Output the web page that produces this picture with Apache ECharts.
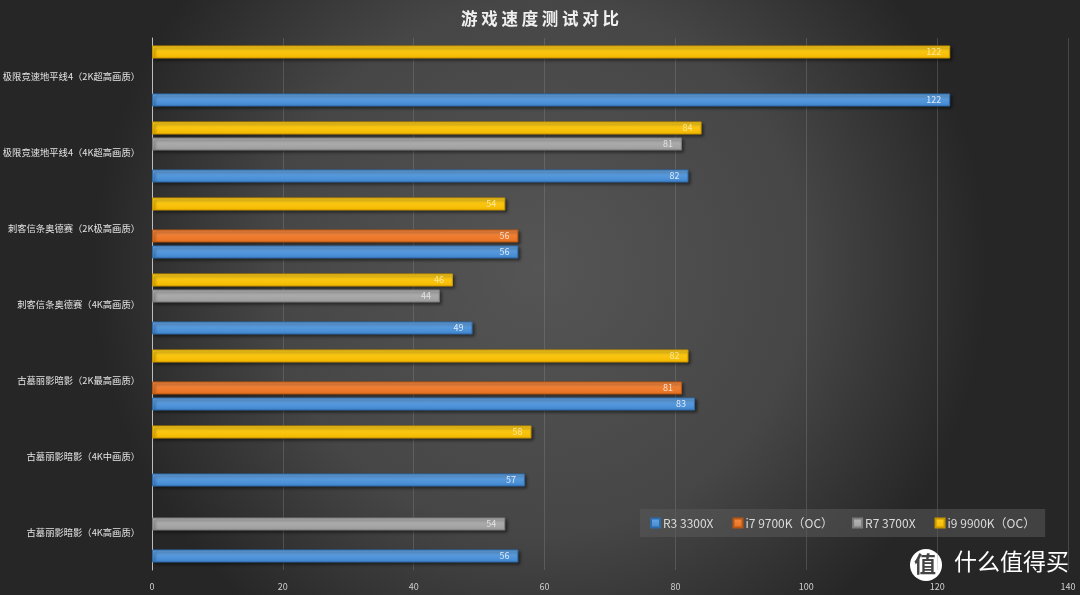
<!DOCTYPE html>
<html>
<head>
<meta charset="utf-8">
<script src="https://cdn.jsdelivr.net/npm/echarts@6/dist/echarts.min.js"></script>
<style>
  html, body { margin: 0; padding: 0; background: #333; }
  #main { width: 1080px; height: 595px; }
</style>
</head>
<body>
<div id="main"></div>
<script>
  // 游戏名称，从上到下
  var games = [
    '极限竞速地平线4（2K超高画质）',
    '极限竞速地平线4（4K超高画质）',
    '刺客信条奥德赛（2K极高画质）',
    '刺客信条奥德赛（4K高画质）',
    '古墓丽影暗影（2K最高画质）',
    '古墓丽影暗影（4K中画质）',
    '古墓丽影暗影（4K高画质）'
  ];
  var cpuNames = ['R3 3300X', 'i7 9700K（OC）', 'R7 3700X', 'i9 9900K（OC）'];
  // '-' 表示没有测这一项
  var r3 = [122, 82, 56, 49, 83, 57, 56];
  var i7 = ['-', '-', 56, '-', 81, '-', '-'];
  var r7 = ['-', 81, '-', 44, '-', '-', 54];
  var i9 = [122, 84, 54, 46, 82, 58, '-'];
  var xTicks = { min: 0, max: 140, interval: 20 };

  var colors = {
    r3: ['#6aa9e6', '#3f86d0', '#2f6aa8'],
    i7: ['#f68c45', '#e8701f', '#b85713'],
    r7: ['#b8b8b8', '#9c9c9c', '#7c7c7c'],
    i9: ['#ffd21f', '#f5b800', '#c99600']
  };

  function grad(c) {
    return new echarts.graphic.LinearGradient(0, 0, 0, 1, [
      { offset: 0, color: c[0] },
      { offset: 1, color: c[1] }
    ]);
  }

  function barSeries(name, data, c, labelColor) {
    return {
      name: name,
      type: 'bar',
      data: data,
      barWidth: 13,
      barGap: '23%',
      itemStyle: {
        color: grad(c),
        borderColor: c[2],
        borderWidth: 1,
        shadowColor: 'rgba(0,0,0,0.55)',
        shadowBlur: 3,
        shadowOffsetX: 2,
        shadowOffsetY: 2
      },
      label: {
        show: true,
        position: 'insideRight',
        color: labelColor,
        fontSize: 9,
        offset: [-4, 0]
      }
    };
  }

  var myChart = echarts.init(document.getElementById('main'));
  myChart.setOption({
    backgroundColor: {
      type: 'radial', x: 0.5, y: 0.45, r: 0.75,
      colorStops: [
        { offset: 0, color: '#555555' },
        { offset: 0.6, color: '#464646' },
        { offset: 1, color: '#262626' }
      ]
    },
    textStyle: { fontFamily: 'Noto Sans CJK SC' },
    title: {
      text: '游 戏 速 度 测 试 对 比',
      left: 'center',
      top: 5,
      textStyle: { color: '#f0f0f0', fontSize: 16.5, fontWeight: 'bold' }
    },
    legend: {
      data: cpuNames,
      left: 640,
      top: 509,
      height: 20,
      padding: [8, 10, 8, 10],
      backgroundColor: 'rgba(90,90,90,0.55)',
      itemWidth: 9,
      itemHeight: 9,
      itemGap: 19,
      icon: 'rect',
      textStyle: { color: '#dcdcdc', fontSize: 12, padding: [0, 0, 0, -2] }
    },
    grid: { left: 152, right: 12, top: 38, bottom: 25, outerBoundsMode: 'none' },
    xAxis: {
      type: 'value',
      min: xTicks.min,
      max: xTicks.max,
      interval: xTicks.interval,
      axisLine: { show: false },
      axisTick: { show: false },
      axisLabel: { color: '#cfcfcf', fontSize: 9, margin: 12 },
      splitLine: { lineStyle: { color: 'rgba(150,150,150,0.3)', width: 1 } }
    },
    yAxis: {
      type: 'category',
      data: games,
      inverse: true,
      axisLine: { lineStyle: { color: '#bdbdbd', width: 1 } },
      axisTick: { show: false },
      axisLabel: { color: '#e2e2e2', fontSize: 9.3, margin: 12 }
    },
    graphic: [
      {
        type: 'circle', left: 910, top: 549,
        shape: { r: 16 },
        style: { fill: '#ffffff' }
      },
      {
        type: 'text', left: 914, top: 553,
        style: { text: '值', fill: '#444', font: 'bold 22px "Noto Sans CJK SC"' }
      },
      {
        type: 'text', left: 954, top: 550,
        style: { text: '什么值得买', fill: '#ffffff', font: '23px "Noto Sans CJK SC"' }
      }
    ],
    series: [
      barSeries(cpuNames[3], i9, colors.i9, 'rgba(255,240,190,0.8)'),
      barSeries(cpuNames[2], r7, colors.r7, 'rgba(240,240,240,0.8)'),
      barSeries(cpuNames[1], i7, colors.i7, 'rgba(255,235,220,0.9)'),
      barSeries(cpuNames[0], r3, colors.r3, 'rgba(235,245,255,0.9)')
    ]
  });
</script>
</body>
</html>
